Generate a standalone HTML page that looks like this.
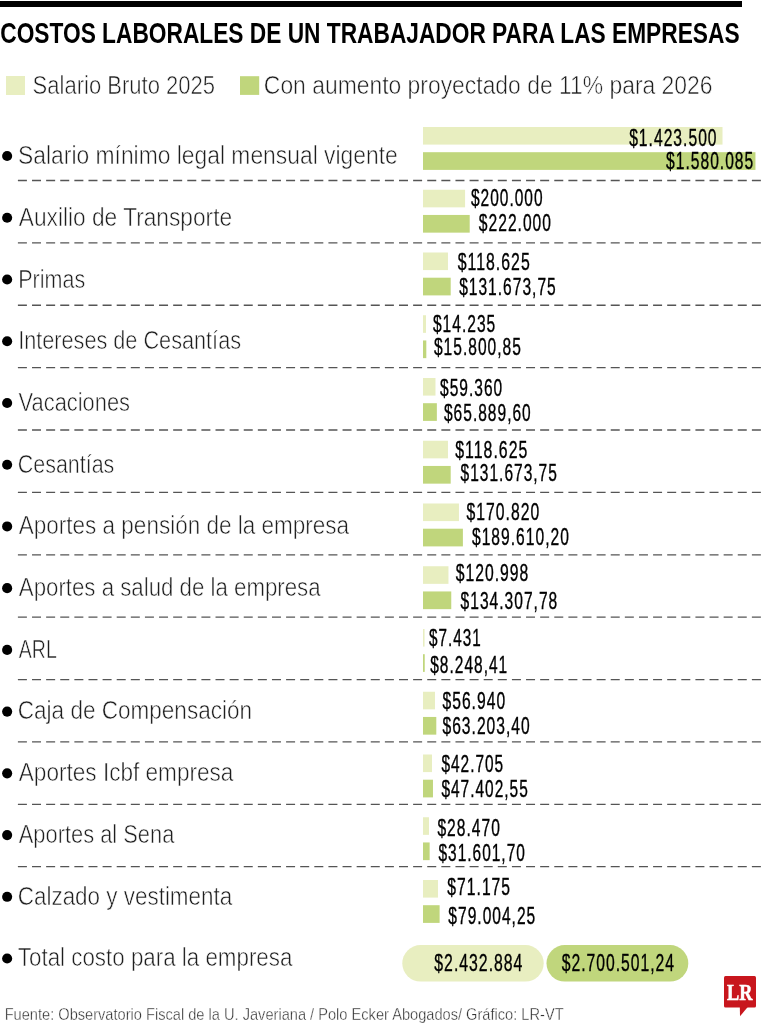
<!DOCTYPE html>
<html><head><meta charset="utf-8"><title>Costos laborales</title>
<style>html,body{margin:0;padding:0;background:#fff;}body{width:762px;height:1024px;overflow:hidden;}svg{display:block;}</style>
</head><body>
<svg width="762" height="1024" viewBox="0 0 762 1024">
<rect x="0" y="1" width="742" height="6" fill="#000"/>
<rect x="6" y="76" width="19" height="19" fill="#e8eec0"/>
<rect x="240" y="76.2" width="19.2" height="18.7" fill="#c0d67c"/>
<rect x="423" y="127.00" width="299.50" height="17.6" fill="#e8eec0"/>
<rect x="423" y="152.20" width="332.45" height="17.7" fill="#c0d67c"/>
<rect x="423" y="189.75" width="42.08" height="17.6" fill="#e8eec0"/>
<rect x="423" y="214.95" width="46.71" height="17.7" fill="#c0d67c"/>
<rect x="423" y="252.50" width="24.96" height="17.6" fill="#e8eec0"/>
<rect x="423" y="277.70" width="27.70" height="17.7" fill="#c0d67c"/>
<rect x="423" y="315.25" width="3.00" height="17.6" fill="#e8eec0"/>
<rect x="423" y="340.45" width="3.32" height="17.7" fill="#c0d67c"/>
<rect x="423" y="378.00" width="12.49" height="17.6" fill="#e8eec0"/>
<rect x="423" y="403.20" width="13.86" height="17.7" fill="#c0d67c"/>
<rect x="423" y="440.75" width="24.96" height="17.6" fill="#e8eec0"/>
<rect x="423" y="465.95" width="27.70" height="17.7" fill="#c0d67c"/>
<rect x="423" y="503.50" width="35.94" height="17.6" fill="#e8eec0"/>
<rect x="423" y="528.70" width="39.89" height="17.7" fill="#c0d67c"/>
<rect x="423" y="566.25" width="25.46" height="17.6" fill="#e8eec0"/>
<rect x="423" y="591.45" width="28.26" height="17.7" fill="#c0d67c"/>
<rect x="423" y="629.00" width="1.56" height="17.6" fill="#e8eec0"/>
<rect x="423" y="654.20" width="1.74" height="17.7" fill="#c0d67c"/>
<rect x="423" y="691.75" width="11.98" height="17.6" fill="#e8eec0"/>
<rect x="423" y="716.95" width="13.30" height="17.7" fill="#c0d67c"/>
<rect x="423" y="754.50" width="8.99" height="17.6" fill="#e8eec0"/>
<rect x="423" y="779.70" width="9.97" height="17.7" fill="#c0d67c"/>
<rect x="423" y="817.25" width="5.99" height="17.6" fill="#e8eec0"/>
<rect x="423" y="842.45" width="6.65" height="17.7" fill="#c0d67c"/>
<rect x="423" y="880.00" width="14.98" height="17.6" fill="#e8eec0"/>
<rect x="423" y="905.20" width="16.62" height="17.7" fill="#c0d67c"/>
<line x1="17.9" y1="180.50" x2="762" y2="180.50" stroke="#555" stroke-width="1.3" stroke-dasharray="9 5.115"/>
<line x1="17.9" y1="242.88" x2="762" y2="242.88" stroke="#555" stroke-width="1.3" stroke-dasharray="9 5.115"/>
<line x1="17.9" y1="305.26" x2="762" y2="305.26" stroke="#555" stroke-width="1.3" stroke-dasharray="9 5.115"/>
<line x1="17.9" y1="367.64" x2="762" y2="367.64" stroke="#555" stroke-width="1.3" stroke-dasharray="9 5.115"/>
<line x1="17.9" y1="430.02" x2="762" y2="430.02" stroke="#555" stroke-width="1.3" stroke-dasharray="9 5.115"/>
<line x1="17.9" y1="492.40" x2="762" y2="492.40" stroke="#555" stroke-width="1.3" stroke-dasharray="9 5.115"/>
<line x1="17.9" y1="554.78" x2="762" y2="554.78" stroke="#555" stroke-width="1.3" stroke-dasharray="9 5.115"/>
<line x1="17.9" y1="617.16" x2="762" y2="617.16" stroke="#555" stroke-width="1.3" stroke-dasharray="9 5.115"/>
<line x1="17.9" y1="679.54" x2="762" y2="679.54" stroke="#555" stroke-width="1.3" stroke-dasharray="9 5.115"/>
<line x1="17.9" y1="741.92" x2="762" y2="741.92" stroke="#555" stroke-width="1.3" stroke-dasharray="9 5.115"/>
<line x1="17.9" y1="804.30" x2="762" y2="804.30" stroke="#555" stroke-width="1.3" stroke-dasharray="9 5.115"/>
<line x1="17.9" y1="866.68" x2="762" y2="866.68" stroke="#555" stroke-width="1.3" stroke-dasharray="9 5.115"/>
<circle cx="7.15" cy="156.05" r="5.05" fill="#000"/>
<circle cx="7.15" cy="217.78" r="5.05" fill="#000"/>
<circle cx="7.15" cy="279.51" r="5.05" fill="#000"/>
<circle cx="7.15" cy="341.24" r="5.05" fill="#000"/>
<circle cx="7.15" cy="402.97" r="5.05" fill="#000"/>
<circle cx="7.15" cy="464.70" r="5.05" fill="#000"/>
<circle cx="7.15" cy="526.43" r="5.05" fill="#000"/>
<circle cx="7.15" cy="588.16" r="5.05" fill="#000"/>
<circle cx="7.15" cy="649.89" r="5.05" fill="#000"/>
<circle cx="7.15" cy="711.62" r="5.05" fill="#000"/>
<circle cx="7.15" cy="773.35" r="5.05" fill="#000"/>
<circle cx="7.15" cy="835.08" r="5.05" fill="#000"/>
<circle cx="7.15" cy="896.81" r="5.05" fill="#000"/>
<circle cx="7.15" cy="958.54" r="5.05" fill="#000"/>
<rect x="402.3" y="945.1" width="141.4" height="36.5" rx="18.25" fill="#e8eec0"/>
<rect x="546.5" y="945.1" width="141.8" height="36.5" rx="18.25" fill="#c0d67c"/>
<rect x="724" y="976" width="32" height="31.6" rx="1.5" fill="#c8161d"/>
<polygon points="739.8,1006 748.6,1006 740,1016.3" fill="#c8161d"/>
<text x="0.29" y="42.50" font-size="29.5" font-weight="bold" fill="#000" font-family="'Liberation Sans', sans-serif" textLength="739.25" lengthAdjust="spacingAndGlyphs">COSTOS LABORALES DE UN TRABAJADOR PARA LAS EMPRESAS</text>
<text x="32.62" y="94.30" font-size="25" font-weight="normal" fill="#1e1e1e" font-family="'Liberation Sans', sans-serif" textLength="182.38" lengthAdjust="spacingAndGlyphs" stroke="#fff" stroke-width="0.55">Salario Bruto 2025</text>
<text x="263.86" y="94.40" font-size="25" font-weight="normal" fill="#1e1e1e" font-family="'Liberation Sans', sans-serif" textLength="448.67" lengthAdjust="spacingAndGlyphs" stroke="#fff" stroke-width="0.55">Con aumento proyectado de 11% para 2026</text>
<text x="18.09" y="164.10" font-size="25.2" font-weight="normal" fill="#1e1e1e" font-family="'Liberation Sans', sans-serif" textLength="379.64" lengthAdjust="spacingAndGlyphs" stroke="#fff" stroke-width="0.55">Salario mínimo legal mensual vigente</text>
<text x="18.80" y="225.80" font-size="25.2" font-weight="normal" fill="#1e1e1e" font-family="'Liberation Sans', sans-serif" textLength="213.32" lengthAdjust="spacingAndGlyphs" stroke="#fff" stroke-width="0.55">Auxilio de Transporte</text>
<text x="18.28" y="287.50" font-size="25.2" font-weight="normal" fill="#1e1e1e" font-family="'Liberation Sans', sans-serif" textLength="66.86" lengthAdjust="spacingAndGlyphs" stroke="#fff" stroke-width="0.55">Primas</text>
<text x="18.15" y="349.20" font-size="25.2" font-weight="normal" fill="#1e1e1e" font-family="'Liberation Sans', sans-serif" textLength="222.90" lengthAdjust="spacingAndGlyphs" stroke="#fff" stroke-width="0.55">Intereses de Cesantías</text>
<text x="18.60" y="410.90" font-size="25.2" font-weight="normal" fill="#1e1e1e" font-family="'Liberation Sans', sans-serif" textLength="111.46" lengthAdjust="spacingAndGlyphs" stroke="#fff" stroke-width="0.55">Vacaciones</text>
<text x="17.83" y="472.60" font-size="25.2" font-weight="normal" fill="#1e1e1e" font-family="'Liberation Sans', sans-serif" textLength="96.51" lengthAdjust="spacingAndGlyphs" stroke="#fff" stroke-width="0.55">Cesantías</text>
<text x="18.80" y="534.30" font-size="25.2" font-weight="normal" fill="#1e1e1e" font-family="'Liberation Sans', sans-serif" textLength="330.21" lengthAdjust="spacingAndGlyphs" stroke="#fff" stroke-width="0.55">Aportes a pensión de la empresa</text>
<text x="18.80" y="596.00" font-size="25.2" font-weight="normal" fill="#1e1e1e" font-family="'Liberation Sans', sans-serif" textLength="301.81" lengthAdjust="spacingAndGlyphs" stroke="#fff" stroke-width="0.55">Aportes a salud de la empresa</text>
<text x="18.80" y="657.70" font-size="25.2" font-weight="normal" fill="#1e1e1e" font-family="'Liberation Sans', sans-serif" textLength="38.01" lengthAdjust="spacingAndGlyphs" stroke="#fff" stroke-width="0.55">ARL</text>
<text x="17.77" y="719.40" font-size="25.2" font-weight="normal" fill="#1e1e1e" font-family="'Liberation Sans', sans-serif" textLength="234.29" lengthAdjust="spacingAndGlyphs" stroke="#fff" stroke-width="0.55">Caja de Compensación</text>
<text x="18.80" y="781.10" font-size="25.2" font-weight="normal" fill="#1e1e1e" font-family="'Liberation Sans', sans-serif" textLength="214.61" lengthAdjust="spacingAndGlyphs" stroke="#fff" stroke-width="0.55">Aportes Icbf empresa</text>
<text x="18.80" y="842.80" font-size="25.2" font-weight="normal" fill="#1e1e1e" font-family="'Liberation Sans', sans-serif" textLength="155.52" lengthAdjust="spacingAndGlyphs" stroke="#fff" stroke-width="0.55">Aportes al Sena</text>
<text x="17.78" y="904.50" font-size="25.2" font-weight="normal" fill="#1e1e1e" font-family="'Liberation Sans', sans-serif" textLength="214.44" lengthAdjust="spacingAndGlyphs" stroke="#fff" stroke-width="0.55">Calzado y vestimenta</text>
<text x="17.85" y="966.20" font-size="25.2" font-weight="normal" fill="#1e1e1e" font-family="'Liberation Sans', sans-serif" textLength="274.56" lengthAdjust="spacingAndGlyphs" stroke="#fff" stroke-width="0.55">Total costo para la empresa</text>
<text x="629.14" y="145.60" font-size="23.2" font-weight="normal" fill="#000" font-family="'Liberation Sans', sans-serif" textLength="88.43" lengthAdjust="spacingAndGlyphs" letter-spacing="1.5" stroke="#000" stroke-width="0.35">$1.423.500</text>
<text x="666.04" y="169.00" font-size="23.2" font-weight="normal" fill="#000" font-family="'Liberation Sans', sans-serif" textLength="88.23" lengthAdjust="spacingAndGlyphs" letter-spacing="1.5" stroke="#000" stroke-width="0.35">$1.580.085</text>
<text x="470.95" y="206.40" font-size="23.2" font-weight="normal" fill="#000" font-family="'Liberation Sans', sans-serif" textLength="72.62" lengthAdjust="spacingAndGlyphs" letter-spacing="1.5" stroke="#000" stroke-width="0.35">$200.000</text>
<text x="478.84" y="230.60" font-size="23.2" font-weight="normal" fill="#000" font-family="'Liberation Sans', sans-serif" textLength="73.13" lengthAdjust="spacingAndGlyphs" letter-spacing="1.5" stroke="#000" stroke-width="0.35">$222.000</text>
<text x="457.74" y="270.00" font-size="23.2" font-weight="normal" fill="#000" font-family="'Liberation Sans', sans-serif" textLength="73.05" lengthAdjust="spacingAndGlyphs" letter-spacing="1.5" stroke="#000" stroke-width="0.35">$118.625</text>
<text x="459.14" y="294.60" font-size="23.2" font-weight="normal" fill="#000" font-family="'Liberation Sans', sans-serif" textLength="97.62" lengthAdjust="spacingAndGlyphs" letter-spacing="1.5" stroke="#000" stroke-width="0.35">$131.673,75</text>
<text x="432.94" y="332.20" font-size="23.2" font-weight="normal" fill="#000" font-family="'Liberation Sans', sans-serif" textLength="63.33" lengthAdjust="spacingAndGlyphs" letter-spacing="1.5" stroke="#000" stroke-width="0.35">$14.235</text>
<text x="433.94" y="354.60" font-size="23.2" font-weight="normal" fill="#000" font-family="'Liberation Sans', sans-serif" textLength="87.92" lengthAdjust="spacingAndGlyphs" letter-spacing="1.5" stroke="#000" stroke-width="0.35">$15.800,85</text>
<text x="440.04" y="396.40" font-size="23.2" font-weight="normal" fill="#000" font-family="'Liberation Sans', sans-serif" textLength="63.12" lengthAdjust="spacingAndGlyphs" letter-spacing="1.5" stroke="#000" stroke-width="0.35">$59.360</text>
<text x="443.94" y="421.40" font-size="23.2" font-weight="normal" fill="#000" font-family="'Liberation Sans', sans-serif" textLength="87.82" lengthAdjust="spacingAndGlyphs" letter-spacing="1.5" stroke="#000" stroke-width="0.35">$65.889,60</text>
<text x="455.24" y="458.40" font-size="23.2" font-weight="normal" fill="#000" font-family="'Liberation Sans', sans-serif" textLength="73.16" lengthAdjust="spacingAndGlyphs" letter-spacing="1.5" stroke="#000" stroke-width="0.35">$118.625</text>
<text x="460.54" y="480.60" font-size="23.2" font-weight="normal" fill="#000" font-family="'Liberation Sans', sans-serif" textLength="97.32" lengthAdjust="spacingAndGlyphs" letter-spacing="1.5" stroke="#000" stroke-width="0.35">$131.673,75</text>
<text x="466.44" y="520.40" font-size="23.2" font-weight="normal" fill="#000" font-family="'Liberation Sans', sans-serif" textLength="73.74" lengthAdjust="spacingAndGlyphs" letter-spacing="1.5" stroke="#000" stroke-width="0.35">$170.820</text>
<text x="471.94" y="544.80" font-size="23.2" font-weight="normal" fill="#000" font-family="'Liberation Sans', sans-serif" textLength="97.93" lengthAdjust="spacingAndGlyphs" letter-spacing="1.5" stroke="#000" stroke-width="0.35">$189.610,20</text>
<text x="455.64" y="581.40" font-size="23.2" font-weight="normal" fill="#000" font-family="'Liberation Sans', sans-serif" textLength="73.64" lengthAdjust="spacingAndGlyphs" letter-spacing="1.5" stroke="#000" stroke-width="0.35">$120.998</text>
<text x="460.54" y="608.60" font-size="23.2" font-weight="normal" fill="#000" font-family="'Liberation Sans', sans-serif" textLength="97.73" lengthAdjust="spacingAndGlyphs" letter-spacing="1.5" stroke="#000" stroke-width="0.35">$134.307,78</text>
<text x="429.05" y="646.20" font-size="23.2" font-weight="normal" fill="#000" font-family="'Liberation Sans', sans-serif" textLength="52.65" lengthAdjust="spacingAndGlyphs" letter-spacing="1.5" stroke="#000" stroke-width="0.35">$7.431</text>
<text x="430.25" y="672.60" font-size="23.2" font-weight="normal" fill="#000" font-family="'Liberation Sans', sans-serif" textLength="77.97" lengthAdjust="spacingAndGlyphs" letter-spacing="1.5" stroke="#000" stroke-width="0.35">$8.248,41</text>
<text x="442.44" y="708.60" font-size="23.2" font-weight="normal" fill="#000" font-family="'Liberation Sans', sans-serif" textLength="63.74" lengthAdjust="spacingAndGlyphs" letter-spacing="1.5" stroke="#000" stroke-width="0.35">$56.940</text>
<text x="442.44" y="733.80" font-size="23.2" font-weight="normal" fill="#000" font-family="'Liberation Sans', sans-serif" textLength="88.33" lengthAdjust="spacingAndGlyphs" letter-spacing="1.5" stroke="#000" stroke-width="0.35">$63.203,40</text>
<text x="441.45" y="772.20" font-size="23.2" font-weight="normal" fill="#000" font-family="'Liberation Sans', sans-serif" textLength="62.71" lengthAdjust="spacingAndGlyphs" letter-spacing="1.5" stroke="#000" stroke-width="0.35">$42.705</text>
<text x="441.45" y="797.40" font-size="23.2" font-weight="normal" fill="#000" font-family="'Liberation Sans', sans-serif" textLength="87.31" lengthAdjust="spacingAndGlyphs" letter-spacing="1.5" stroke="#000" stroke-width="0.35">$47.402,55</text>
<text x="437.44" y="835.60" font-size="23.2" font-weight="normal" fill="#000" font-family="'Liberation Sans', sans-serif" textLength="63.43" lengthAdjust="spacingAndGlyphs" letter-spacing="1.5" stroke="#000" stroke-width="0.35">$28.470</text>
<text x="438.45" y="861.00" font-size="23.2" font-weight="normal" fill="#000" font-family="'Liberation Sans', sans-serif" textLength="87.41" lengthAdjust="spacingAndGlyphs" letter-spacing="1.5" stroke="#000" stroke-width="0.35">$31.601,70</text>
<text x="447.34" y="894.80" font-size="23.2" font-weight="normal" fill="#000" font-family="'Liberation Sans', sans-serif" textLength="63.74" lengthAdjust="spacingAndGlyphs" letter-spacing="1.5" stroke="#000" stroke-width="0.35">$71.175</text>
<text x="448.34" y="923.90" font-size="23.2" font-weight="normal" fill="#000" font-family="'Liberation Sans', sans-serif" textLength="87.92" lengthAdjust="spacingAndGlyphs" letter-spacing="1.5" stroke="#000" stroke-width="0.35">$79.004,25</text>
<text x="434.34" y="970.90" font-size="24" font-weight="normal" fill="#000" font-family="'Liberation Sans', sans-serif" textLength="89.06" lengthAdjust="spacingAndGlyphs" letter-spacing="1.5" stroke="#000" stroke-width="0.35">$2.432.884</text>
<text x="561.74" y="970.90" font-size="24" font-weight="normal" fill="#000" font-family="'Liberation Sans', sans-serif" textLength="113.25" lengthAdjust="spacingAndGlyphs" letter-spacing="1.5" stroke="#000" stroke-width="0.35">$2.700.501,24</text>
<text x="4.63" y="1020.20" font-size="16.4" font-weight="normal" fill="#333" font-family="'Liberation Sans', sans-serif" textLength="558.97" lengthAdjust="spacingAndGlyphs" stroke="#fff" stroke-width="0.35">Fuente: Observatorio Fiscal de la U. Javeriana / Polo Ecker Abogados/ Gráfico: LR-VT</text>
<text x="727.12" y="999.90" font-size="22.5" font-weight="bold" fill="#fff" font-family="'Liberation Serif', serif" textLength="25.46" lengthAdjust="spacingAndGlyphs" stroke="#fff" stroke-width="0.5">LR</text>
</svg>
</body></html>
